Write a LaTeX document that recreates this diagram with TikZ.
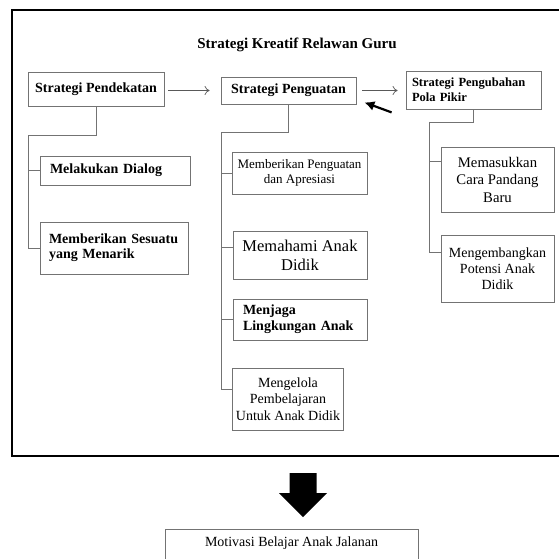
\documentclass[tikz,border=0pt]{standalone}
\usepackage{fontspec}
\setmainfont{Liberation Serif}
\usetikzlibrary{arrows.meta, positioning}

\begin{document}
\begin{tikzpicture}[
  x=1pt, y=-1pt,
  box/.style={rectangle, draw=black!55, line width=0.8pt, inner sep=3pt, align=center, font=\fontsize{14}{16.5}\selectfont},
  hbox/.style={box, font=\bfseries\fontsize{14}{16.5}\selectfont},
  lbox/.style={hbox, align=left, inner xsep=10pt},
  link/.style={draw=black!55, line width=0.8pt},
  arrow/.style={draw=black!65, line width=0.7pt, -{To[length=5pt,width=9pt]}},
  thickarrow/.style={line width=2.2pt, -{Latex[length=10pt,width=10pt]}}
]
\useasboundingbox (0,0) rectangle (559,559);
\fill[white] (0,0) rectangle (559,559);
\clip (0,0) rectangle (559,559);

% outer frame
\draw[line width=2.6pt] (12,10) rectangle (580,456);

\node[font=\bfseries\fontsize{15}{18}\selectfont] (title) at (297,45) {Strategi Kreatif Relawan Guru};

% top row
\node[hbox, minimum width=136pt, minimum height=34pt] (pendekatan) at (96,89) {Strategi Pendekatan};
\node[hbox, minimum width=135pt, minimum height=27pt] (penguatan) at (288.5,90.5) {Strategi Penguatan};
\node[lbox, text width=123pt, inner xsep=6pt, minimum height=38pt, font=\bfseries\fontsize{12.5}{15}\selectfont] (pengubahan) at (473.5,90) {Strategi Pengubahan\\Pola Pikir};

% left column
\node[lbox, text width=130pt, minimum height=29pt] (dialog) at (115,170.5) {Melakukan Dialog};
\node[lbox, text width=130pt, inner xsep=9pt, minimum height=52pt, font=\bfseries\fontsize{14}{15}\selectfont] (sesuatu) at (114,248) {Memberikan Sesuatu\\yang Menarik};

% middle column
\node[box, minimum width=135pt, minimum height=42pt, font=\fontsize{13}{15}\selectfont] (apresiasi) at (299.5,173) {Memberikan Penguatan\\dan Apresiasi};
\node[box, minimum width=134pt, minimum height=48pt, font=\fontsize{16.5}{19}\selectfont] (memahami) at (300,255) {Memahami Anak\\Didik};
\node[lbox, text width=114pt, minimum height=41pt, font=\bfseries\fontsize{14}{16}\selectfont] (menjaga) at (300,319.5) {Menjaga\\Lingkungan Anak};
\node[box, minimum width=110pt, minimum height=62pt] (mengelola) at (288,399) {Mengelola\\Pembelajaran\\Untuk Anak Didik};

% right column
\node[box, minimum width=113pt, minimum height=65pt, font=\fontsize{14.7}{17.5}\selectfont] (memasukkan) at (497.5,179.5) {Memasukkan\\Cara Pandang\\Baru};
\node[box, minimum width=113pt, minimum height=67pt, font=\fontsize{14}{16}\selectfont] (mengembangkan) at (497.5,268.5) {Mengembangkan\\Potensi Anak\\Didik};

\node[box, anchor=north, minimum width=253pt, text height=11pt, text depth=20pt, inner ysep=6pt] (motivasi) at (291.5,529) {Motivasi Belajar Anak Jalanan};

% arrows between strategies
\draw[arrow, shorten <=4pt, shorten >=11pt] (pendekatan.east |- penguatan.west) -- (penguatan.west);
\draw[arrow, shorten <=6pt, shorten >=8pt] (penguatan.east) -- (penguatan.east -| pengubahan.west);
\draw[thickarrow] ([xshift=-14pt,yshift=-3pt]pengubahan.south west) -- ([xshift=8pt,yshift=2pt]penguatan.south east);

% branches
\coordinate (trunkA) at (28,135);
\draw[link] (pendekatan.south) |- (trunkA) |- (dialog.west);
\draw[link] (trunkA) |- (sesuatu.west);

\coordinate (trunkB) at (221,132);
\draw[link] (penguatan.south) |- (trunkB) |- (apresiasi.west);
\draw[link] (trunkB) |- ([yshift=8pt]memahami.west);
\draw[link] (trunkB) |- (menjaga.west);
\draw[link] (trunkB) |- ([yshift=10pt]mengelola.west);

\coordinate (trunkC) at (429,122);
\draw[link] (pengubahan.south) |- (trunkC) |- ([yshift=18pt]memasukkan.west);
\draw[link] (trunkC) |- ([yshift=16pt]mengembangkan.west);

% big arrow down
\coordinate (bigtip) at (303,517);
\fill (bigtip) -- ++(-24,-24) -- ++(10.5,0) -- ++(0,-20) -- ++(27,0) -- ++(0,20) -- ++(10.5,0) -- cycle;
\end{tikzpicture}
\end{document}
